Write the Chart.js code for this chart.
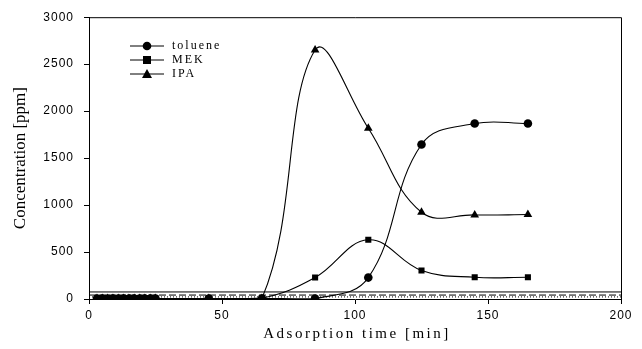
<!DOCTYPE html>
<html>
<head>
<meta charset="utf-8">
<script src="https://cdn.jsdelivr.net/npm/chart.js@4.4.1/dist/chart.umd.min.js"></script>
<style>
  html, body { margin: 0; padding: 0; background: #fff; }
  #wrap { width: 642px; height: 349px; }
</style>
</head>
<body>
<div id="wrap"><canvas id="adsChart" width="642" height="349"></canvas></div>
<script>
/* ── ADSORPTION BREAKTHROUGH ── */
const times = [3, 5, 7, 9, 11, 13, 15, 17, 19, 21, 23, 25, 45, 65, 85, 105, 125, 145, 165];
const toluene = [5, 5, 5, 5, 5, 5, 5, 5, 5, 5, 5, 5, 5, 5, 5, 228, 1645, 1868, 1868];
const mek = [5, 5, 5, 5, 5, 5, 5, 5, 5, 5, 5, 5, 5, 10, 228, 630, 304, 231, 231];
const ipa = [5, 5, 5, 5, 5, 5, 5, 5, 5, 5, 5, 5, 5, 5, 2650, 1818, 923, 895, 899];
const limitLevels = [75, 42, 22];
const limitDashes = [[], [7, 3], [1, 2]];
const xTicks = [0, 50, 100, 150, 200];
const yTicks = [0, 500, 1000, 1500, 2000, 2500, 3000];
const seriesNames = ["toluene", "MEK", "IPA"];
const seriesMarks = ["circle", "rect", "triangle"];

const serif = "'Liberation Serif', 'Times New Roman', serif";
const sans = "'Liberation Sans', Arial, sans-serif";

const toPoints = (vals) => times.map((t, i) => ({ x: t, y: vals[i] }));

const seriesSets = [toluene, mek, ipa].map((vals, i) => ({
    label: seriesNames[i],
    data: toPoints(vals),
    borderColor: "#000",
    backgroundColor: "#000",
    borderWidth: 1.1,
    pointStyle: seriesMarks[i],
    pointRadius: i === 2 ? 5 : 4.3,
    pointBorderWidth: 0,
    tension: 0.4,
    order: 1,
}));

const limitSets = limitLevels.map((lv, i) => ({
    label: "limit" + i,
    data: [{ x: xTicks[0], y: lv }, { x: xTicks[xTicks.length - 1], y: lv }],
    borderColor: "#000",
    borderWidth: 1,
    borderDash: limitDashes[i],
    pointRadius: 0,
    tension: 0,
    order: 2,
}));

// frame, axis titles and legend are painted by hand
const decor = {
    id: "decor",
    beforeDraw(chart) {
        chart.ctx.letterSpacing = "1px";
    },
    afterDraw(chart) {
        const { ctx, chartArea: a } = chart;
        ctx.save();
        ctx.strokeStyle = "#000";
        ctx.lineWidth = 1;
        ctx.beginPath();
        ctx.moveTo(a.left, a.top + 0.5);
        ctx.lineTo(a.right + 0.5, a.top + 0.5);
        ctx.lineTo(a.right + 0.5, a.bottom);
        ctx.stroke();

        ctx.fillStyle = "#000";
        ctx.textBaseline = "middle";

        // x title
        ctx.letterSpacing = "2.5px";
        ctx.font = "15px " + serif;
        ctx.textAlign = "center";
        ctx.fillText("Adsorption time [min]", (a.left + a.right) / 2 + 2, 334);

        // y title
        ctx.letterSpacing = "0px";
        ctx.font = "17px " + serif;
        ctx.save();
        ctx.translate(21, (a.top + a.bottom) / 2);
        ctx.rotate(-Math.PI / 2);
        ctx.fillText("Concentration [ppm]", 0, 0);
        ctx.restore();

        // legend
        ctx.letterSpacing = "2px";
        ctx.font = "12px " + serif;
        ctx.textAlign = "left";
        const rowY = [46, 60, 74];
        seriesNames.forEach((name, i) => {
            const y = rowY[i];
            ctx.beginPath();
            ctx.moveTo(130, y);
            ctx.lineTo(164, y);
            ctx.stroke();
            const cx = 147;
            ctx.beginPath();
            if (seriesMarks[i] === "circle") {
                ctx.arc(cx, y, 4.3, 0, Math.PI * 2);
            } else if (seriesMarks[i] === "rect") {
                ctx.rect(cx - 4, y - 4, 8, 8);
            } else {
                ctx.moveTo(cx, y - 5);
                ctx.lineTo(cx + 5, y + 4);
                ctx.lineTo(cx - 5, y + 4);
                ctx.closePath();
            }
            ctx.fill();
            ctx.fillText(name, 172, y);
        });
        ctx.restore();
    },
};

new Chart(document.getElementById("adsChart").getContext("2d"), {
    type: "line",
    data: { datasets: [...limitSets, ...seriesSets] },
    options: {
        responsive: false,
        animation: false,
        devicePixelRatio: 1,
        layout: { padding: { left: 0, top: 13, right: 21, bottom: 0 } },
        plugins: {
            legend: { display: false },
            tooltip: { enabled: false },
        },
        scales: {
            x: {
                type: "linear",
                min: 0,
                max: 200,
                afterBuildTicks: (s) => { s.ticks = xTicks.map((v) => ({ value: v })); },
                afterFit: (s) => { s.height = 50; },
                grid: { drawOnChartArea: false, drawTicks: true, tickLength: 5, color: "#000" },
                border: { display: true, color: "#000", width: 1 },
                ticks: {
                    color: "#000", padding: 4, maxRotation: 0,
                    font: { family: sans, size: 12 },
                    callback: (v) => String(v),
                },
            },
            y: {
                min: 0,
                max: 3000,
                afterBuildTicks: (s) => { s.ticks = yTicks.map((v) => ({ value: v })); },
                afterFit: (s) => { s.width = 89; },
                grid: { drawOnChartArea: false, drawTicks: true, tickLength: 5, color: "#000" },
                border: { display: true, color: "#000", width: 1 },
                ticks: {
                    color: "#000", padding: 10,
                    font: { family: sans, size: 12 },
                    callback: (v) => String(v),
                },
            },
        },
    },
    plugins: [decor],
});
</script>
</body>
</html>
